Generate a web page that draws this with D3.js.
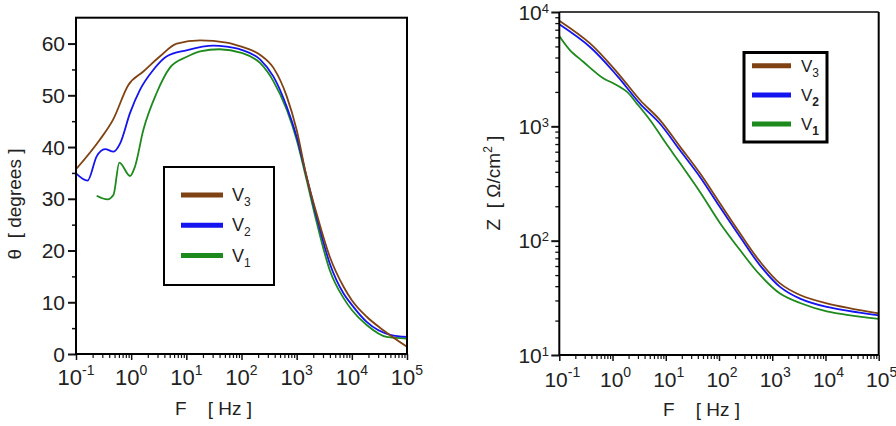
<!DOCTYPE html>
<html>
<head>
<meta charset="utf-8">
<script src="https://cdn.jsdelivr.net/npm/d3@7"></script>
<style>
  html, body { margin: 0; padding: 0; background: #fff; }
  svg text { font-family: "Liberation Sans", Arial, sans-serif; fill: #222; }
</style>
</head>
<body>
<svg id="chart" width="896" height="426"></svg>
<script>
// ---------- Data: phase angle (left plot) ----------
const thetaV3F = [0.1, 0.27, 0.47, 0.89, 1.66, 3.3, 6.7, 17.8, 53.7, 100, 219, 380, 661, 1000, 1510, 2290, 3980, 7080, 10000, 18600, 37200, 100000];
const thetaV3  = [35.7, 41.4, 45.3, 52.0, 54.6, 57.5, 60.0, 60.6, 60.2, 59.4, 57.8, 55.3, 49.8, 43.3, 34.3, 27.2, 18.8, 13.0, 10.4, 7.2, 4.6, 1.4];

const thetaV2F = [0.1, 0.162, 0.237, 0.336, 0.479, 0.631, 0.955, 1.45, 2.51, 4.37, 10, 30.9, 53.7, 100, 219, 380, 661, 1000, 1510, 2290, 3980, 7080, 10000, 18600, 50000, 100000];
const thetaV2  = [34.9, 33.5, 38.2, 39.6, 39.1, 40.7, 46.6, 51.1, 54.9, 57.5, 58.7, 59.6, 59.4, 58.8, 56.9, 53.6, 47.8, 42.0, 34.3, 26.6, 17.5, 11.7, 9.5, 6.2, 3.7, 3.3];

const thetaV1F = [0.237, 0.372, 0.479, 0.61, 0.955, 1.17, 1.66, 2.88, 5.01, 10, 17.8, 39.8, 100, 219, 380, 661, 1000, 1510, 2290, 3980, 7080, 10000, 18600, 42700, 100000];
const thetaV1  = [30.6, 29.9, 30.8, 37.0, 34.4, 36.2, 43.3, 50.4, 55.3, 57.4, 58.5, 58.9, 58.2, 56.2, 52.7, 47.2, 41.4, 33.7, 25.6, 16.2, 10.8, 8.5, 5.6, 3.3, 3.0];

// ---------- Data: impedance modulus (right plot) ----------
const zV3F = [0.1, 0.378, 1.2, 3.28, 7.8, 18.5, 44, 104, 248, 590, 1400, 3330, 10600, 100000];
const zV3  = [8400, 5320, 3000, 1700, 1135, 664, 388, 212, 116, 65.5, 42.3, 33.5, 28.3, 23.1];

const zV2F = [0.1, 0.378, 1.2, 3.28, 7.8, 18.5, 44, 104, 248, 590, 1400, 3330, 10600, 100000];
const zV2  = [7800, 4940, 2790, 1580, 1054, 617, 361, 197, 108, 60.8, 39.4, 31.1, 26.3, 22.2];

const zV1F = [0.1, 0.158, 0.282, 0.67, 1.03, 1.85, 2.84, 5.06, 10, 18.5, 44, 104, 248, 590, 1400, 3330, 10600, 100000];
const zV1  = [6170, 4650, 3670, 2630, 2380, 2010, 1590, 1135, 714, 477, 267, 143, 82.8, 50.1, 34.5, 28.5, 24.1, 20.7];

// ---------- Axis ticks ----------
const freqExponents = [-1, 0, 1, 2, 3, 4, 5];
const thetaTicks = [0, 10, 20, 30, 40, 50, 60];
const thetaMinor = [5, 15, 25, 35, 45, 55];
const zExponents = [1, 2, 3, 4];

const seriesNames = ["3", "2", "1"]; // subscripts for V3, V2, V1
const colors = { "3": "#7f4212", "2": "#1414f0", "1": "#1d8a1d" };

const svg = d3.select("#chart");

function minorLog(e0, e1) {
  const out = [];
  for (let e = e0; e < e1; e++) for (let k = 2; k <= 9; k++) out.push(k * Math.pow(10, e));
  return out;
}

function supLabel(sel, exp, mainSize, supSize, supDy) {
  sel.text(null);
  sel.append("tspan").attr("font-size", mainSize).text("10");
  sel.append("tspan").attr("font-size", supSize).attr("dy", supDy).text(exp);
}

// ================= LEFT PLOT =================
(function () {
  const L = 76, R = 407, T = 17.7, B = 354;
  const x = d3.scaleLog().domain([0.1, 1e5]).range([L, R]);
  const y = d3.scaleLinear().domain([0, 65]).range([B, T]);
  const g = svg.append("g");

  g.append("g").attr("transform", `translate(0,${B})`)
    .call(d3.axisBottom(x).tickValues(minorLog(-1, 5)).tickSize(4).tickFormat("").tickSizeOuter(0))
    .call(a => a.select(".domain").remove())
    .selectAll("line").attr("stroke", "#111").attr("stroke-width", 1.2);
  g.append("g").attr("transform", `translate(0,${B})`)
    .call(d3.axisBottom(x).tickValues(freqExponents.map(e => Math.pow(10, e))).tickSize(6).tickFormat("").tickSizeOuter(0))
    .call(a => a.select(".domain").remove())
    .selectAll("line").attr("stroke", "#111").attr("stroke-width", 1.5);
  g.selectAll(".xl").data(freqExponents).join("text")
    .attr("x", e => x(Math.pow(10, e))).attr("y", 385)
    .attr("text-anchor", "middle")
    .each(function (e) { supLabel(d3.select(this), e, 22, 14, -10); });

  g.append("g").attr("transform", `translate(${L},0)`)
    .call(d3.axisLeft(y).tickValues(thetaMinor).tickSize(4).tickFormat("").tickSizeOuter(0))
    .call(a => a.select(".domain").remove())
    .selectAll("line").attr("stroke", "#111").attr("stroke-width", 1.5);
  g.append("g").attr("transform", `translate(${L},0)`)
    .call(d3.axisLeft(y).tickValues(thetaTicks).tickSize(8).tickFormat("").tickSizeOuter(0))
    .call(a => a.select(".domain").remove())
    .selectAll("line").attr("stroke", "#111").attr("stroke-width", 2);
  g.selectAll(".yl").data(thetaTicks).join("text")
    .attr("x", 65).attr("y", d => y(d)).attr("dy", "0.36em")
    .attr("text-anchor", "end").attr("font-size", 21).text(d => d);

  const line = d3.line().x(d => x(d[0])).y(d => y(d[1])).curve(d3.curveMonotoneX);
  const curves = [
    ["1", thetaV1F, thetaV1],
    ["2", thetaV2F, thetaV2],
    ["3", thetaV3F, thetaV3]
  ];
  curves.forEach(([k, f, v]) => {
    g.append("path").datum(f.map((fi, i) => [fi, v[i]]))
      .attr("d", line).attr("fill", "none")
      .attr("stroke", colors[k]).attr("stroke-width", 1.8);
  });

  g.append("rect").attr("x", L).attr("y", T).attr("width", R - L).attr("height", B - T)
    .attr("fill", "none").attr("stroke", "#000").attr("stroke-width", 2);

  const lg = g.append("g");
  lg.append("rect").attr("x", 164).attr("y", 167).attr("width", 110).attr("height", 118)
    .attr("fill", "#fff").attr("stroke", "#000").attr("stroke-width", 2);
  seriesNames.forEach((k, i) => {
    const yy = 195 + i * 30.3;
    lg.append("line").attr("x1", 181).attr("x2", 223).attr("y1", yy).attr("y2", yy)
      .attr("stroke", colors[k]).attr("stroke-width", 5);
    const t = lg.append("text").attr("x", 232).attr("y", yy + 6).attr("font-size", 18);
    t.append("tspan").text("V");
    t.append("tspan").attr("font-size", 12).attr("dy", 5).text(k);
  });

  g.append("text").attr("transform", "translate(21,204) rotate(-90)")
    .attr("text-anchor", "middle").attr("font-size", 19).style("white-space", "pre")
    .text("θ  [ degrees ]");
  g.append("text").attr("x", 175).attr("y", 415).attr("font-size", 19).style("white-space", "pre")
    .text("F    [ Hz ]");
})();

// ================= RIGHT PLOT =================
(function () {
  const L = 559.3, R = 878.7, T = 12, B = 355;
  const x = d3.scaleLog().domain([0.1, 1e5]).range([L, R]);
  const y = d3.scaleLog().domain([10, 1e4]).range([B, T]);
  const g = svg.append("g");

  g.append("g").attr("transform", `translate(0,${B})`)
    .call(d3.axisBottom(x).tickValues(minorLog(-1, 5)).tickSize(4).tickFormat("").tickSizeOuter(0))
    .call(a => a.select(".domain").remove())
    .selectAll("line").attr("stroke", "#111").attr("stroke-width", 1.2);
  g.append("g").attr("transform", `translate(0,${B})`)
    .call(d3.axisBottom(x).tickValues(freqExponents.map(e => Math.pow(10, e))).tickSize(6).tickFormat("").tickSizeOuter(0))
    .call(a => a.select(".domain").remove())
    .selectAll("line").attr("stroke", "#111").attr("stroke-width", 1.5);
  g.selectAll(".xl").data(freqExponents).join("text")
    .attr("x", e => x(Math.pow(10, e)) + 3).attr("y", 387)
    .attr("text-anchor", "middle")
    .each(function (e) { supLabel(d3.select(this), e, 21, 14, -10); });

  g.append("g").attr("transform", `translate(${L},0)`)
    .call(d3.axisLeft(y).tickValues(minorLog(1, 4)).tickSize(4).tickFormat("").tickSizeOuter(0))
    .call(a => a.select(".domain").remove())
    .selectAll("line").attr("stroke", "#111").attr("stroke-width", 1.3);
  g.append("g").attr("transform", `translate(${L},0)`)
    .call(d3.axisLeft(y).tickValues(zExponents.map(e => Math.pow(10, e))).tickSize(8).tickFormat("").tickSizeOuter(0))
    .call(a => a.select(".domain").remove())
    .selectAll("line").attr("stroke", "#111").attr("stroke-width", 2);
  g.selectAll(".yl").data(zExponents).join("text")
    .attr("x", 549).attr("y", e => y(Math.pow(10, e)) + 7.5)
    .attr("text-anchor", "end")
    .each(function (e) { supLabel(d3.select(this), e, 21, 13, -7); });

  const line = d3.line().x(d => x(d[0])).y(d => y(d[1])).curve(d3.curveCatmullRom.alpha(0.5));
  const curves = [
    ["1", zV1F, zV1],
    ["2", zV2F, zV2],
    ["3", zV3F, zV3]
  ];
  curves.forEach(([k, f, v]) => {
    g.append("path").datum(f.map((fi, i) => [fi, v[i]]))
      .attr("d", line).attr("fill", "none")
      .attr("stroke", colors[k]).attr("stroke-width", 1.8);
  });

  g.append("line").attr("x1", L).attr("x2", R).attr("y1", T).attr("y2", T).attr("stroke", "#000").attr("stroke-width", 1.5);
  g.append("line").attr("x1", R).attr("x2", R).attr("y1", T).attr("y2", B).attr("stroke", "#000").attr("stroke-width", 2);
  g.append("line").attr("x1", L).attr("x2", L).attr("y1", T).attr("y2", B).attr("stroke", "#000").attr("stroke-width", 2);
  g.append("line").attr("x1", L).attr("x2", R).attr("y1", B).attr("y2", B).attr("stroke", "#000").attr("stroke-width", 2);

  const lg = g.append("g");
  lg.append("rect").attr("x", 744).attr("y", 52.5).attr("width", 83).attr("height", 89.5)
    .attr("fill", "#fff").attr("stroke", "#000").attr("stroke-width", 3);
  seriesNames.forEach((k, i) => {
    const yy = 65.7 + i * 29.2;
    lg.append("line").attr("x1", 752).attr("x2", 791).attr("y1", yy).attr("y2", yy)
      .attr("stroke", colors[k]).attr("stroke-width", 5);
    const t = lg.append("text").attr("x", 801).attr("y", yy + 6).attr("font-size", 17);
    t.append("tspan").text("V");
    t.append("tspan").attr("font-size", 12).attr("dy", 5)
      .attr("font-weight", k === "3" ? "normal" : "bold").text(k);
  });

  const yt = g.append("text").attr("transform", "translate(500,183) rotate(-90)")
    .attr("text-anchor", "middle").attr("font-size", 19).style("white-space", "pre");
  yt.append("tspan").text("Z  [ Ω/cm");
  yt.append("tspan").attr("font-size", 12).attr("dy", -8).text("2");
  yt.append("tspan").attr("dy", 8).text(" ]");
  g.append("text").attr("x", 663).attr("y", 416).attr("font-size", 19).style("white-space", "pre")
    .text("F    [ Hz ]");
})();
</script>
</body>
</html>
